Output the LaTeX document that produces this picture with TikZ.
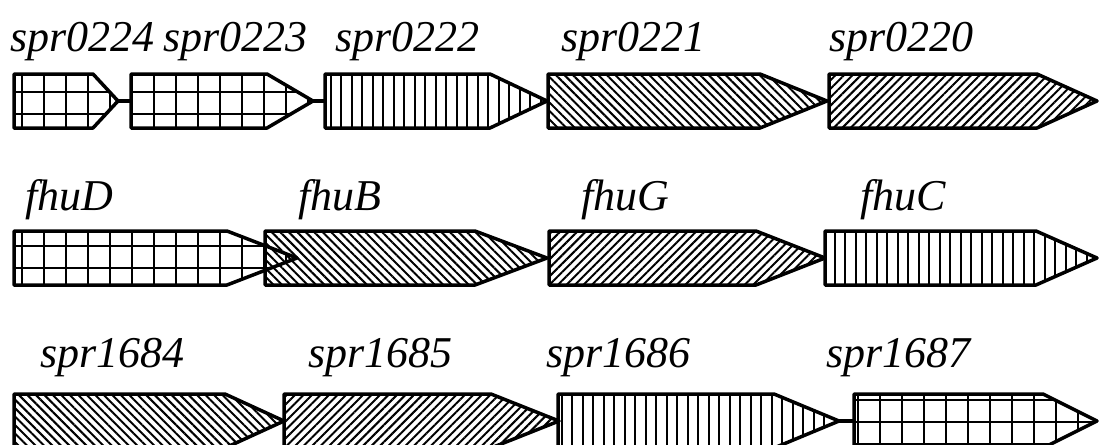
\documentclass[tikz,border=0pt]{standalone}
\usepackage{fontspec}
\setmainfont{Liberation Serif}
\usetikzlibrary{patterns,patterns.meta}

% vertical stripes; the stroke runs past the tile so no seams show
\pgfdeclarepatternformonly{vstripes}{\pgfpoint{-1pt}{-2pt}}{\pgfpoint{11.5pt}{46pt}}{\pgfpoint{10.5pt}{44pt}}{%
  \pgfsetlinewidth{2pt}%
  \pgfpathmoveto{\pgfpoint{5pt}{-2pt}}%
  \pgfpathlineto{\pgfpoint{5pt}{46pt}}%
  \pgfusepath{stroke}%
}

\tikzset{
  gene/.style={draw, line width=3.5pt, line join=round},
  grid gene/.style={gene, pattern={Hatch[angle=0, distance=22pt, line width=1.8pt]}},
  vert gene/.style={gene, pattern=vstripes},
  ne gene/.style={gene, pattern={Lines[angle=45, distance=6pt, line width=2pt]}},
  nw gene/.style={gene, pattern={Lines[angle=-45, distance=6pt, line width=2pt]}},
  link/.style={line width=3.5pt},
  genename/.style={font=\itshape\fontsize{44}{48}\selectfont, anchor=base west, inner sep=0pt}
}

% \genearrow{style}{id}{left x}{shoulder x}{tip x}{centre y}
\newcommand\genearrow[6]{%
  \draw[#1] (#3,#6-27) -- (#4,#6-27) -- (#5,#6) -- (#4,#6+27) -- (#3,#6+27) -- cycle;
  \coordinate (#2-w) at (#3,#6);
  \coordinate (#2-e) at (#5,#6);
}

\begin{document}
\begin{tikzpicture}[x=1pt, y=-1pt]
\clip (0,0) rectangle (1099,444);
\useasboundingbox (0,0) rectangle (1099,444);

% first cluster
\genearrow{grid gene}{s0224}{14}{93}{118}{101}
\genearrow{grid gene}{s0223}{131}{267}{313}{101}
\genearrow{vert gene}{s0222}{325}{490}{547}{101}
\genearrow{nw gene}{s0221}{548}{760}{827}{101}
\genearrow{ne gene}{s0220}{829}{1037}{1097}{101}
\draw[link] (s0224-e) -- (s0223-w);
\draw[link] (s0223-e) -- (s0222-w);

\node[genename] (l0224) at (10,52) {spr0224};
\node[genename] (l0223) at (163,52) {spr0223};
\node[genename] (l0222) at (335,52) {spr0222};
\node[genename] (l0221) at (561,52) {spr0221};
\node[genename] (l0220) at (829,52) {spr0220};

% fhu operon
\genearrow{nw gene}{fhuB}{265}{475}{547}{258}
\genearrow{grid gene}{fhuD}{14}{227}{297}{258}
\genearrow{ne gene}{fhuG}{549}{756}{825}{258}
\genearrow{vert gene}{fhuC}{825}{1036}{1097}{258}

\node[genename] (lfhuD) at (25,210) {fhuD};
\node[genename] (lfhuB) at (298,210) {fhuB};
\node[genename] (lfhuG) at (581,210) {fhuG};
\node[genename] (lfhuC) at (860,210) {fhuC};

% second spr cluster
\genearrow{nw gene}{s1684}{14}{225}{284}{421}
\genearrow{ne gene}{s1685}{284}{491}{559}{421}
\genearrow{vert gene}{s1686}{558}{774}{839}{421}
\genearrow{grid gene}{s1687}{854}{1043}{1097}{421}
\draw[link] (s1686-e) -- (s1687-w);

\node[genename] (l1684) at (40,367) {spr1684};
\node[genename] (l1685) at (308,367) {spr1685};
\node[genename] (l1686) at (546,367) {spr1686};
\node[genename] (l1687) at (826,367) {spr1687};
\end{tikzpicture}
\end{document}
